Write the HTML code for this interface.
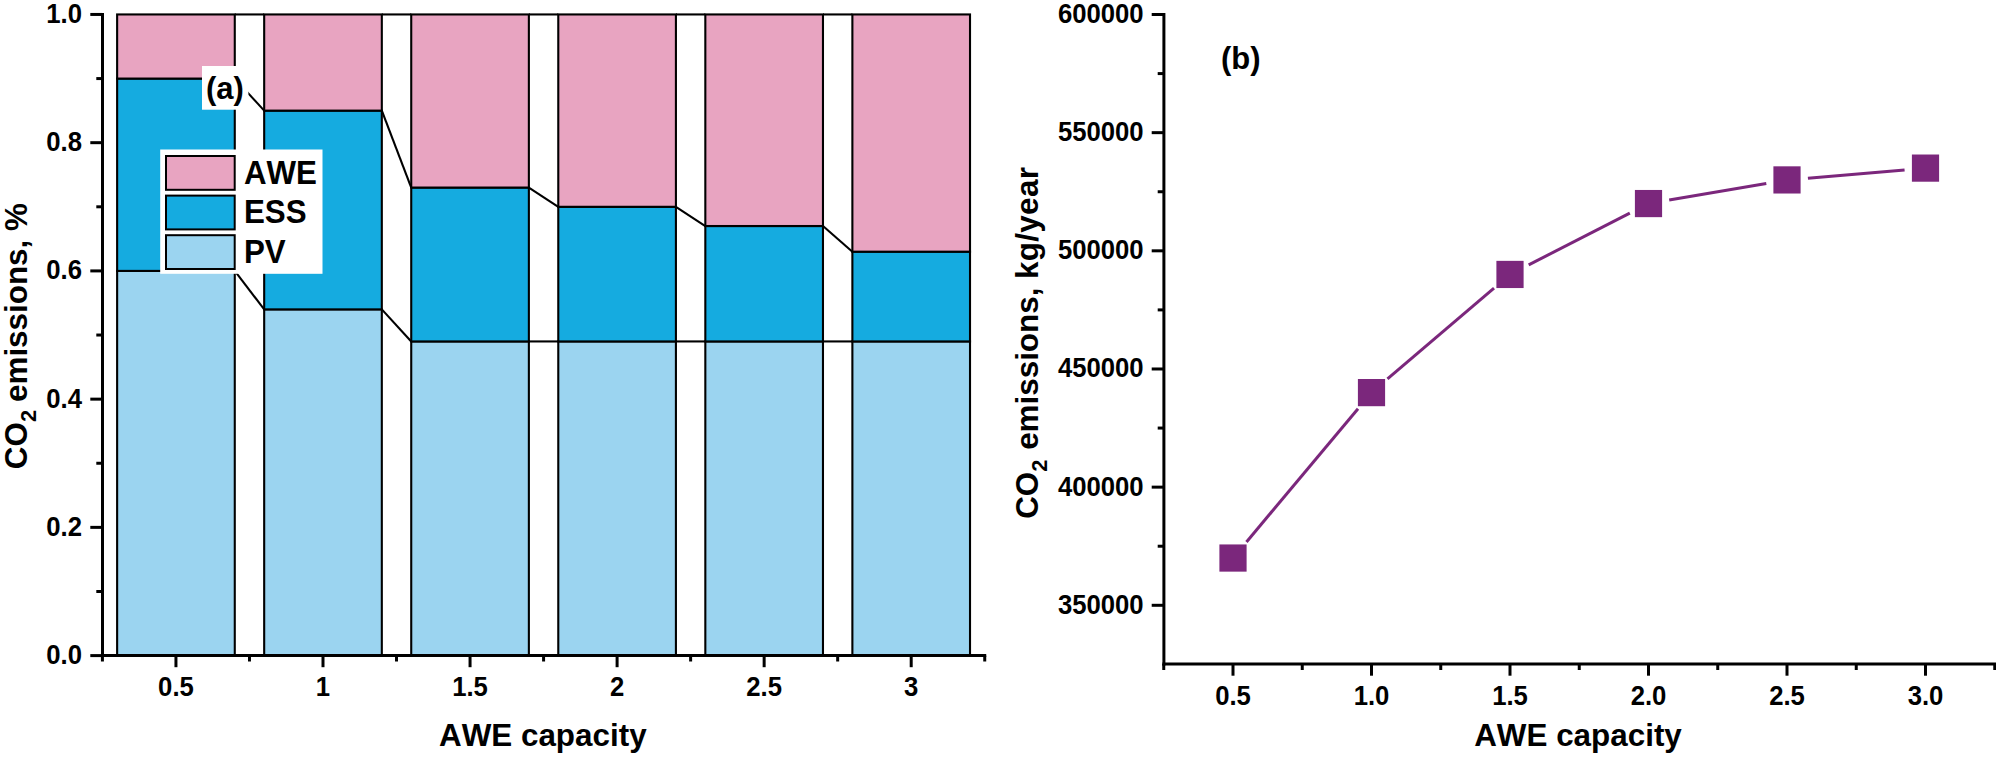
<!DOCTYPE html>
<html lang="en"><head><meta charset="utf-8"><title>CO2 emissions vs AWE capacity</title>
<style>html,body{margin:0;padding:0;background:#fff;}body{width:1996px;height:757px;overflow:hidden;}svg{display:block;}text{font-family:"Liberation Sans", Arial, Helvetica, sans-serif;font-weight:bold;fill:#000;font-kerning:none;}</style></head><body>
<svg width="1996" height="757" viewBox="0 0 1996 757">
<rect width="1996" height="757" fill="#fff"/>
<g stroke="#000" stroke-width="2.1" stroke-linejoin="miter">
<rect x="117.13" y="270.91" width="117.64" height="384.69" fill="#9BD4F0"/>
<rect x="117.13" y="78.57" width="117.64" height="192.34" fill="#15ABE0"/>
<rect x="117.13" y="14.45" width="117.64" height="64.12" fill="#E8A4C1"/>
<rect x="264.18" y="309.38" width="117.64" height="346.22" fill="#9BD4F0"/>
<rect x="264.18" y="110.62" width="117.64" height="198.76" fill="#15ABE0"/>
<rect x="264.18" y="14.45" width="117.64" height="96.17" fill="#E8A4C1"/>
<rect x="411.23" y="341.44" width="117.64" height="314.16" fill="#9BD4F0"/>
<rect x="411.23" y="187.56" width="117.64" height="153.88" fill="#15ABE0"/>
<rect x="411.23" y="14.45" width="117.64" height="173.11" fill="#E8A4C1"/>
<rect x="558.28" y="341.44" width="117.64" height="314.16" fill="#9BD4F0"/>
<rect x="558.28" y="206.80" width="117.64" height="134.64" fill="#15ABE0"/>
<rect x="558.28" y="14.45" width="117.64" height="192.35" fill="#E8A4C1"/>
<rect x="705.33" y="341.44" width="117.64" height="314.16" fill="#9BD4F0"/>
<rect x="705.33" y="226.03" width="117.64" height="115.41" fill="#15ABE0"/>
<rect x="705.33" y="14.45" width="117.64" height="211.58" fill="#E8A4C1"/>
<rect x="852.38" y="341.44" width="117.64" height="314.16" fill="#9BD4F0"/>
<rect x="852.38" y="251.68" width="117.64" height="89.76" fill="#15ABE0"/>
<rect x="852.38" y="14.45" width="117.64" height="237.23" fill="#E8A4C1"/>
<line x1="234.77" y1="655.60" x2="264.18" y2="655.60"/>
<line x1="234.77" y1="270.91" x2="264.18" y2="309.38"/>
<line x1="234.77" y1="78.57" x2="264.18" y2="110.62"/>
<line x1="234.77" y1="14.45" x2="264.18" y2="14.45"/>
<line x1="381.82" y1="655.60" x2="411.23" y2="655.60"/>
<line x1="381.82" y1="309.38" x2="411.23" y2="341.44"/>
<line x1="381.82" y1="110.62" x2="411.23" y2="187.56"/>
<line x1="381.82" y1="14.45" x2="411.23" y2="14.45"/>
<line x1="528.87" y1="655.60" x2="558.28" y2="655.60"/>
<line x1="528.87" y1="341.44" x2="558.28" y2="341.44"/>
<line x1="528.87" y1="187.56" x2="558.28" y2="206.80"/>
<line x1="528.87" y1="14.45" x2="558.28" y2="14.45"/>
<line x1="675.92" y1="655.60" x2="705.33" y2="655.60"/>
<line x1="675.92" y1="341.44" x2="705.33" y2="341.44"/>
<line x1="675.92" y1="206.80" x2="705.33" y2="226.03"/>
<line x1="675.92" y1="14.45" x2="705.33" y2="14.45"/>
<line x1="822.97" y1="655.60" x2="852.38" y2="655.60"/>
<line x1="822.97" y1="341.44" x2="852.38" y2="341.44"/>
<line x1="822.97" y1="226.03" x2="852.38" y2="251.68"/>
<line x1="822.97" y1="14.45" x2="852.38" y2="14.45"/>
</g>
<g stroke="#000" stroke-width="3.0" fill="none" stroke-linecap="butt">
<line x1="102.5" y1="12.95" x2="102.5" y2="657.10"/>
<line x1="101.00" y1="655.6" x2="986.23" y2="655.6"/>
<line x1="90.30" y1="655.60" x2="102.5" y2="655.60"/>
<line x1="96.30" y1="591.49" x2="102.5" y2="591.49"/>
<line x1="90.30" y1="527.37" x2="102.5" y2="527.37"/>
<line x1="96.30" y1="463.25" x2="102.5" y2="463.25"/>
<line x1="90.30" y1="399.14" x2="102.5" y2="399.14"/>
<line x1="96.30" y1="335.03" x2="102.5" y2="335.03"/>
<line x1="90.30" y1="270.91" x2="102.5" y2="270.91"/>
<line x1="96.30" y1="206.80" x2="102.5" y2="206.80"/>
<line x1="90.30" y1="142.68" x2="102.5" y2="142.68"/>
<line x1="96.30" y1="78.57" x2="102.5" y2="78.57"/>
<line x1="90.30" y1="14.45" x2="102.5" y2="14.45"/>
<line x1="102.42" y1="655.6" x2="102.42" y2="661.50"/>
<line x1="175.95" y1="655.6" x2="175.95" y2="667.20"/>
<line x1="249.47" y1="655.6" x2="249.47" y2="661.50"/>
<line x1="323.00" y1="655.6" x2="323.00" y2="667.20"/>
<line x1="396.52" y1="655.6" x2="396.52" y2="661.50"/>
<line x1="470.05" y1="655.6" x2="470.05" y2="667.20"/>
<line x1="543.58" y1="655.6" x2="543.58" y2="661.50"/>
<line x1="617.10" y1="655.6" x2="617.10" y2="667.20"/>
<line x1="690.62" y1="655.6" x2="690.62" y2="661.50"/>
<line x1="764.15" y1="655.6" x2="764.15" y2="667.20"/>
<line x1="837.67" y1="655.6" x2="837.67" y2="661.50"/>
<line x1="911.20" y1="655.6" x2="911.20" y2="667.20"/>
<line x1="984.73" y1="655.6" x2="984.73" y2="661.50"/>
</g>
<text transform="translate(82.00,664.00) scale(1,1.052)" font-size="25.7" text-anchor="end">0.0</text>
<text transform="translate(82.00,535.77) scale(1,1.052)" font-size="25.7" text-anchor="end">0.2</text>
<text transform="translate(82.00,407.54) scale(1,1.052)" font-size="25.7" text-anchor="end">0.4</text>
<text transform="translate(82.00,279.31) scale(1,1.052)" font-size="25.7" text-anchor="end">0.6</text>
<text transform="translate(82.00,151.08) scale(1,1.052)" font-size="25.7" text-anchor="end">0.8</text>
<text transform="translate(82.00,22.85) scale(1,1.052)" font-size="25.7" text-anchor="end">1.0</text>
<text transform="translate(175.95,695.90) scale(1,1.052)" font-size="25.7" text-anchor="middle">0.5</text>
<text transform="translate(323.00,695.90) scale(1,1.052)" font-size="25.7" text-anchor="middle">1</text>
<text transform="translate(470.05,695.90) scale(1,1.052)" font-size="25.7" text-anchor="middle">1.5</text>
<text transform="translate(617.10,695.90) scale(1,1.052)" font-size="25.7" text-anchor="middle">2</text>
<text transform="translate(764.15,695.90) scale(1,1.052)" font-size="25.7" text-anchor="middle">2.5</text>
<text transform="translate(911.20,695.90) scale(1,1.052)" font-size="25.7" text-anchor="middle">3</text>
<text transform="translate(542.80,745.60) scale(1,1.015)" font-size="31.4" text-anchor="middle">AWE capacity</text>
<text transform="translate(27.00,469.20) rotate(-90) scale(1,1.015)" font-size="31.4">CO<tspan font-size="22" dy="8.6">2</tspan><tspan dy="-8.6" dx="-0.8" font-size="31.4"> emissions, %</tspan></text>
<rect x="202" y="66" width="46.4" height="43.7" fill="#fff"/>
<text transform="translate(206.00,99.40) scale(1,1.04)" font-size="31">(a)</text>
<rect x="160.2" y="149.5" width="162.3" height="124.3" fill="#fff"/>
<g stroke="#000" stroke-width="2">
<rect x="166" y="156" width="68.7" height="33.8" fill="#E8A4C1"/>
<rect x="166" y="195.6" width="68.7" height="33.8" fill="#15ABE0"/>
<rect x="166" y="235.2" width="68.7" height="33.8" fill="#9BD4F0"/>
</g>
<text transform="translate(243.90,183.50) scale(1,1.04)" font-size="31.3">AWE</text>
<text transform="translate(243.90,223.20) scale(1,1.04)" font-size="31.3">ESS</text>
<text transform="translate(243.90,262.80) scale(1,1.04)" font-size="31.3">PV</text>
<g stroke="#7B277C" stroke-width="3" stroke-linecap="butt">
<line x1="1246.48" y1="541.93" x2="1358.02" y2="408.71"/>
<line x1="1387.48" y1="378.98" x2="1494.02" y2="288.08"/>
<line x1="1528.69" y1="264.88" x2="1629.81" y2="213.12"/>
<line x1="1669.20" y1="200.02" x2="1766.30" y2="183.46"/>
<line x1="1807.92" y1="178.14" x2="1904.58" y2="169.89"/>
</g>
<g fill="#7B277C">
<rect x="1219.40" y="544.44" width="27.2" height="27.2"/>
<rect x="1357.90" y="379.01" width="27.2" height="27.2"/>
<rect x="1496.40" y="260.85" width="27.2" height="27.2"/>
<rect x="1634.90" y="189.96" width="27.2" height="27.2"/>
<rect x="1773.40" y="166.32" width="27.2" height="27.2"/>
<rect x="1911.90" y="154.51" width="27.2" height="27.2"/>
</g>
<g stroke="#000" stroke-width="3.0" fill="none">
<line x1="1163.9" y1="13.00" x2="1163.9" y2="665.60"/>
<line x1="1162.40" y1="664.1" x2="1996" y2="664.1"/>
<line x1="1151.70" y1="605.30" x2="1163.9" y2="605.30"/>
<line x1="1157.70" y1="546.22" x2="1163.9" y2="546.22"/>
<line x1="1151.70" y1="487.14" x2="1163.9" y2="487.14"/>
<line x1="1157.70" y1="428.06" x2="1163.9" y2="428.06"/>
<line x1="1151.70" y1="368.98" x2="1163.9" y2="368.98"/>
<line x1="1157.70" y1="309.90" x2="1163.9" y2="309.90"/>
<line x1="1151.70" y1="250.82" x2="1163.9" y2="250.82"/>
<line x1="1157.70" y1="191.74" x2="1163.9" y2="191.74"/>
<line x1="1151.70" y1="132.66" x2="1163.9" y2="132.66"/>
<line x1="1157.70" y1="73.58" x2="1163.9" y2="73.58"/>
<line x1="1151.70" y1="14.50" x2="1163.9" y2="14.50"/>
<line x1="1163.75" y1="664.1" x2="1163.75" y2="670.00"/>
<line x1="1233.00" y1="664.1" x2="1233.00" y2="675.70"/>
<line x1="1302.25" y1="664.1" x2="1302.25" y2="670.00"/>
<line x1="1371.50" y1="664.1" x2="1371.50" y2="675.70"/>
<line x1="1440.75" y1="664.1" x2="1440.75" y2="670.00"/>
<line x1="1510.00" y1="664.1" x2="1510.00" y2="675.70"/>
<line x1="1579.25" y1="664.1" x2="1579.25" y2="670.00"/>
<line x1="1648.50" y1="664.1" x2="1648.50" y2="675.70"/>
<line x1="1717.75" y1="664.1" x2="1717.75" y2="670.00"/>
<line x1="1787.00" y1="664.1" x2="1787.00" y2="675.70"/>
<line x1="1856.25" y1="664.1" x2="1856.25" y2="670.00"/>
<line x1="1925.50" y1="664.1" x2="1925.50" y2="675.70"/>
<line x1="1994.75" y1="664.1" x2="1994.75" y2="670.00"/>
</g>
<text transform="translate(1143.60,613.70) scale(1,1.052)" font-size="25.7" text-anchor="end">350000</text>
<text transform="translate(1143.60,495.54) scale(1,1.052)" font-size="25.7" text-anchor="end">400000</text>
<text transform="translate(1143.60,377.38) scale(1,1.052)" font-size="25.7" text-anchor="end">450000</text>
<text transform="translate(1143.60,259.22) scale(1,1.052)" font-size="25.7" text-anchor="end">500000</text>
<text transform="translate(1143.60,141.06) scale(1,1.052)" font-size="25.7" text-anchor="end">550000</text>
<text transform="translate(1143.60,22.90) scale(1,1.052)" font-size="25.7" text-anchor="end">600000</text>
<text transform="translate(1233.00,705.20) scale(1,1.052)" font-size="25.7" text-anchor="middle">0.5</text>
<text transform="translate(1371.50,705.20) scale(1,1.052)" font-size="25.7" text-anchor="middle">1.0</text>
<text transform="translate(1510.00,705.20) scale(1,1.052)" font-size="25.7" text-anchor="middle">1.5</text>
<text transform="translate(1648.50,705.20) scale(1,1.052)" font-size="25.7" text-anchor="middle">2.0</text>
<text transform="translate(1787.00,705.20) scale(1,1.052)" font-size="25.7" text-anchor="middle">2.5</text>
<text transform="translate(1925.50,705.20) scale(1,1.052)" font-size="25.7" text-anchor="middle">3.0</text>
<text transform="translate(1578.00,745.60) scale(1,1.015)" font-size="31.4" text-anchor="middle">AWE capacity</text>
<text transform="translate(1038.20,518.80) rotate(-90) scale(1,1.015)" font-size="31.4">CO<tspan font-size="22" dy="8.6">2</tspan><tspan dy="-8.6" dx="0.9" font-size="31.4"> emissions, <tspan letter-spacing="0.3">kg/year</tspan></tspan></text>
<text transform="translate(1221.00,69.40) scale(1,1.04)" font-size="31">(b)</text>
</svg></body></html>
